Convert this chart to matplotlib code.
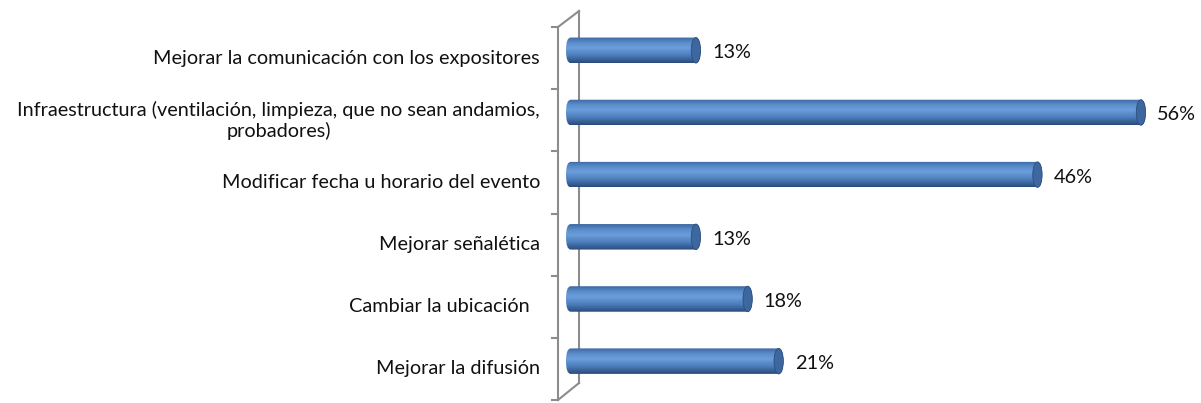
import numpy as np
import matplotlib
matplotlib.use("Agg")
import matplotlib.pyplot as plt
from matplotlib.patches import FancyBboxPatch, Ellipse
from matplotlib.colors import LinearSegmentedColormap

categories = [
    "Mejorar la comunicación con los expositores",
    "Infraestructura (ventilación, limpieza, que no sean andamios,\nprobadores)",
    "Modificar fecha u horario del evento",
    "Mejorar señalética",
    "Cambiar la ubicación  ",
    "Mejorar la difusión",
]
values = [13, 56, 46, 13, 18, 21]
labels = ["13%", "56%", "46%", "13%", "18%", "21%"]

plt.rcParams['font.family'] = ['Lato', 'DejaVu Sans']

W, H = 1201, 403
fig = plt.figure(figsize=(W / 100, H / 100), dpi=100)
# axes: value 0 at x=566px, 10.35 px per %, categories from y=27px to y=400px
px_per = 10.35
ax = fig.add_axes([566 / W, (H - 400) / H, 1 - 566 / W, 373 / H])
xmax = (W - 566) / px_per
ax.set_xlim(0, xmax)
ax.set_ylim(5.5, -0.5)
ax.axis("off")

def px2x(p):
    return (p - 566) / px_per

def py2y(p):
    return -0.5 + (p - 27) / (373 / 6)

# 3d wall
wall = dict(color="#8c8c8c", lw=1.5, clip_on=False, zorder=1)
ax.plot([px2x(558), px2x(558)], [py2y(27), py2y(400)], **wall)
ax.plot([px2x(579), px2x(579)], [py2y(11), py2y(383)], **wall)
ax.plot([px2x(558), px2x(579)], [py2y(27), py2y(11)], **wall)
ax.plot([px2x(558), px2x(579)], [py2y(400), py2y(383)], **wall)
for i in range(7):
    ax.plot([px2x(552), px2x(558)], [i - 0.5, i - 0.5], **wall)

cmap = LinearSegmentedColormap.from_list("cyl", [
    (0.0, "#3a67a0"), (0.2, "#5a8ccb"), (0.42, "#6c9edb"),
    (0.7, "#4d7ebc"), (1.0, "#2a4b7c")])
grad = np.linspace(0, 1, 64).reshape(-1, 1)

h = 0.41
rx = 0.45
off = 0.125
for i, v in enumerate(values):
    yc = i - off
    patch = FancyBboxPatch((0, yc - h / 2), v, h,
                           boxstyle=f"round,pad=0,rounding_size={rx}",
                           mutation_aspect=(h / 2) / rx,
                           facecolor="none", edgecolor="none", zorder=3)
    ax.add_patch(patch)
    im = ax.imshow(grad, cmap=cmap, aspect="auto", origin="upper",
                   extent=(0, v, yc + h / 2, yc - h / 2), zorder=3)
    im.set_clip_path(patch)
    cap = Ellipse((v - rx, yc), 2 * rx, h, facecolor="#3d679e",
                  edgecolor="#2c4f80", lw=0.6, zorder=4)
    ax.add_patch(cap)
    ax.text(v + 1.1, yc + 0.04, labels[i], fontsize=14.3, va="center",
            ha="left", color="#111111")
    ax.text(px2x(540), i, categories[i], fontsize=14.3, va="center",
            ha="right", multialignment="center", color="#111111",
            clip_on=False)

ax.set_xlim(0, xmax)
ax.set_ylim(5.5, -0.5)

fig.savefig("out.png", dpi=100)
